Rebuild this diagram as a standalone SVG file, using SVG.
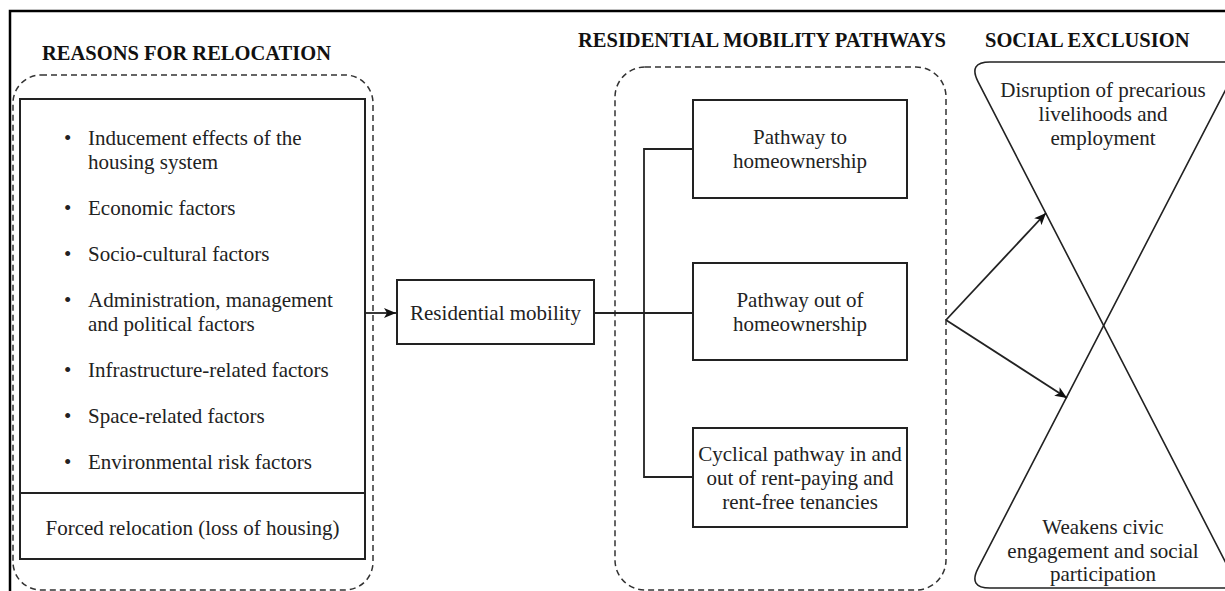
<svg xmlns="http://www.w3.org/2000/svg" width="1225" height="591" viewBox="0 0 1225 591">
  <defs>
    <style>
      .t { font-family: "Liberation Serif", "Times New Roman", serif; font-size: 21px; fill: #222; }
      .h { font-weight: bold; font-size: 20.5px; fill: #111; }
      .c { text-anchor: middle; }
      .box { fill: #fff; stroke: #222; stroke-width: 2; }
      .dash { fill: none; stroke: #333; stroke-width: 1.5; stroke-dasharray: 6 4; }
      .line { fill: none; stroke: #222; stroke-width: 1.8; }
      .tri { fill: none; stroke: #222; stroke-width: 1.6; }
    </style>
    <marker id="arrow" viewBox="0 0 12 10" refX="12" refY="5" markerWidth="12" markerHeight="10" markerUnits="userSpaceOnUse" orient="auto">
      <path d="M0,0 L12,5 L0,10 L3,5 z" fill="#111"/>
    </marker>
  </defs>

  <rect width="1225" height="591" fill="#fff"/>
  <!-- outer frame (continues past the right and bottom edges) -->
  <path d="M10,591 V11 H1225" fill="none" stroke="#000" stroke-width="2.5"/>

  <!-- section titles -->
  <text class="t h" x="42" y="60">REASONS FOR RELOCATION</text>
  <text class="t h" x="578" y="47">RESIDENTIAL MOBILITY PATHWAYS</text>
  <text class="t h" x="985" y="47">SOCIAL EXCLUSION</text>

  <!-- grouping frames -->
  <rect class="dash" x="13" y="75" width="360" height="515" rx="28"/>
  <rect class="dash" x="615" y="67" width="331" height="523" rx="30"/>

  <g id="reasons">
    <rect class="box" x="20" y="99" width="345" height="460"/>
    <line class="line" x1="20" y1="493" x2="365" y2="493"/>
    <g class="t">
      <text x="64" y="145">•</text><text x="88" y="145">Inducement effects of the</text>
      <text x="88" y="169">housing system</text>
      <text x="64" y="215">•</text><text x="88" y="215">Economic factors</text>
      <text x="64" y="261">•</text><text x="88" y="261">Socio-cultural factors</text>
      <text x="64" y="307">•</text><text x="88" y="307">Administration, management</text>
      <text x="88" y="331">and political factors</text>
      <text x="64" y="377">•</text><text x="88" y="377">Infrastructure-related factors</text>
      <text x="64" y="423">•</text><text x="88" y="423">Space-related factors</text>
      <text x="64" y="469">•</text><text x="88" y="469">Environmental risk factors</text>
      <text class="c" x="192.5" y="535">Forced relocation (loss of housing)</text>
    </g>
  </g>

  <g id="residential-mobility">
    <rect class="box" x="397" y="280" width="197" height="64"/>
    <text class="t c" x="495.5" y="320">Residential mobility</text>
  </g>

  <g id="pathway-to">
    <rect class="box" x="693" y="100" width="214" height="98"/>
    <text class="t c" x="800" y="144">Pathway to</text>
    <text class="t c" x="800" y="168">homeownership</text>
  </g>

  <g id="pathway-out">
    <rect class="box" x="693" y="263" width="214" height="97"/>
    <text class="t c" x="800" y="307">Pathway out of</text>
    <text class="t c" x="800" y="331">homeownership</text>
  </g>

  <g id="pathway-cyclical">
    <rect class="box" x="693" y="428" width="214" height="99"/>
    <text class="t c" x="800" y="461">Cyclical pathway in and</text>
    <text class="t c" x="800" y="485">out of rent-paying and</text>
    <text class="t c" x="800" y="509">rent-free tenancies</text>
  </g>

  <g id="disruption">
    <path class="tri" d="M1230,62 H990 Q968,62 978,81.6 L1245,600"/>
    <text class="t c" x="1103" y="97">Disruption of precarious</text>
    <text class="t c" x="1103" y="121">livelihoods and</text>
    <text class="t c" x="1103" y="145">employment</text>
  </g>

  <g id="civic">
    <path class="tri" d="M1240,62 L978,568.4 Q968,588 990,588 H1230"/>
    <text class="t c" x="1103" y="534">Weakens civic</text>
    <text class="t c" x="1103" y="558">engagement and social</text>
    <text class="t c" x="1103" y="581">participation</text>
  </g>

  <g id="connectors">
    <line class="line" x1="365" y1="313" x2="396" y2="313" marker-end="url(#arrow)"/>
    <line class="line" x1="594" y1="313" x2="693" y2="313"/>
    <path class="line" d="M693,149 H644 V477 H693"/>
    <line class="line" x1="946" y1="320" x2="1046" y2="213" marker-end="url(#arrow)"/>
    <line class="line" x1="946" y1="320" x2="1067" y2="398" marker-end="url(#arrow)"/>
  </g>
</svg>
